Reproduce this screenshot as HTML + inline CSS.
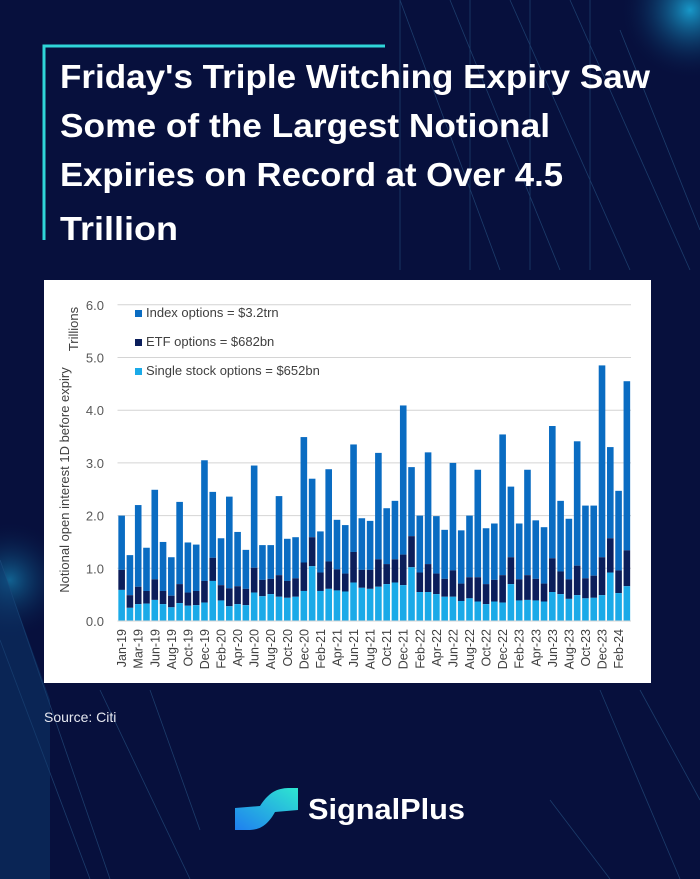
<!DOCTYPE html>
<html><head><meta charset="utf-8"><style>
html,body{margin:0;padding:0;}
body{width:700px;height:879px;background:#07103d;overflow:hidden;position:relative;font-family:"Liberation Sans",sans-serif;}
svg{position:absolute;left:0;top:0;}
</style></head><body>
<svg width="700" height="879" xmlns="http://www.w3.org/2000/svg">
<defs>
<radialGradient id="g1" cx="0.5" cy="0.5" r="0.5"><stop offset="0" stop-color="#1aa7d8" stop-opacity="0.9"/><stop offset="1" stop-color="#07103d" stop-opacity="0"/></radialGradient>
<linearGradient id="lg" x1="0" y1="1" x2="1" y2="0"><stop offset="0" stop-color="#1f7ff0"/><stop offset="1" stop-color="#2ee6d0"/></linearGradient>
</defs>
<rect width="700" height="879" fill="#07103d"/>
<circle cx="690" cy="10" r="70" fill="url(#g1)"/>
<circle cx="10" cy="580" r="60" fill="url(#g1)" opacity="0.6"/>
<g stroke="#2a5a8a" stroke-width="0.8" opacity="0.6" fill="none">
<line x1="400" y1="0" x2="500" y2="270"/><line x1="450" y1="0" x2="560" y2="270"/><line x1="510" y1="0" x2="630" y2="270"/><line x1="570" y1="0" x2="690" y2="270"/><line x1="620" y1="30" x2="700" y2="230"/>
<line x1="0" y1="560" x2="110" y2="879"/><line x1="0" y1="640" x2="90" y2="879"/><line x1="100" y1="690" x2="190" y2="879"/><line x1="150" y1="690" x2="200" y2="830"/>
<line x1="550" y1="800" x2="610" y2="879"/><line x1="600" y1="690" x2="680" y2="879"/><line x1="640" y1="690" x2="700" y2="800"/>
<line x1="400" y1="0" x2="400" y2="270"/><line x1="470" y1="0" x2="470" y2="270"/><line x1="530" y1="0" x2="530" y2="270"/><line x1="590" y1="0" x2="590" y2="270"/>
</g>
<polygon points="0,560 50,700 50,879 0,879" fill="#0d3a6e" opacity="0.5"/>
<path d="M44,240 V46 H385" stroke="#2fd6d9" stroke-width="3" fill="none"/>
<g fill="#ffffff" font-weight="bold" font-size="33">
<text x="60" y="88" textLength="590" lengthAdjust="spacingAndGlyphs">Friday's Triple Witching Expiry Saw</text>
<text x="60" y="137" textLength="490" lengthAdjust="spacingAndGlyphs">Some of the Largest Notional</text>
<text x="60" y="186" textLength="503" lengthAdjust="spacingAndGlyphs">Expiries on Record at Over 4.5</text>
<text x="60" y="240" textLength="118" lengthAdjust="spacingAndGlyphs">Trillion</text>
</g>
<rect x="44" y="280" width="607" height="403" fill="#ffffff"/>
<g id="chart"></g>
<text x="44" y="722" fill="#e6e8f0" font-size="14">Source: Citi</text>
<g>
<path d="M235,808 L260,806 C270,790 280,788 290,788 L298,788 L298,810 L275,812 C265,830 255,830 245,830 L235,830 Z" fill="url(#lg)"/>
<text x="308" y="819" fill="#ffffff" font-size="29" font-weight="bold" textLength="157" lengthAdjust="spacingAndGlyphs">SignalPlus</text>
</g>
</svg>
<script>
const totals=[2.0,1.25,2.2,1.39,2.49,1.5,1.21,2.26,1.49,1.45,3.05,2.45,1.57,2.36,1.69,1.35,2.95,1.44,1.44,2.37,1.56,1.59,3.49,2.7,1.7,2.88,1.92,1.82,3.35,1.95,1.9,3.19,2.14,2.28,4.09,2.92,2.0,3.2,1.99,1.73,3.0,1.72,2.0,2.87,1.76,1.85,3.54,2.55,1.85,2.87,1.91,1.78,3.7,2.28,1.94,3.41,2.19,2.19,4.85,3.3,2.47,4.55];
const etfTop=[0.97,0.49,0.65,0.57,0.79,0.57,0.48,0.70,0.54,0.57,0.76,1.2,0.68,0.62,0.66,0.61,1.01,0.78,0.80,0.87,0.76,0.81,1.11,1.59,0.92,1.13,0.98,0.90,1.31,0.97,0.97,1.17,1.08,1.17,1.26,1.61,0.92,1.08,0.90,0.80,0.96,0.71,0.83,0.83,0.70,0.78,0.87,1.21,0.79,0.87,0.80,0.71,1.19,0.94,0.79,1.05,0.81,0.86,1.21,1.57,0.96,1.34];
const single=[0.59,0.25,0.32,0.33,0.40,0.32,0.26,0.34,0.29,0.30,0.35,0.76,0.39,0.28,0.32,0.30,0.54,0.47,0.51,0.46,0.44,0.46,0.57,1.04,0.57,0.61,0.58,0.56,0.73,0.63,0.61,0.65,0.70,0.73,0.68,1.02,0.55,0.55,0.51,0.46,0.46,0.38,0.43,0.37,0.32,0.37,0.35,0.70,0.39,0.40,0.39,0.37,0.55,0.51,0.42,0.49,0.43,0.44,0.49,0.92,0.53,0.66];
const xLabels=["Jan-19","Mar-19","Jun-19","Aug-19","Oct-19","Dec-19","Feb-20","Apr-20","Jun-20","Aug-20","Oct-20","Dec-20","Feb-21","Apr-21","Jun-21","Aug-21","Oct-21","Dec-21","Feb-22","Apr-22","Jun-22","Aug-22","Oct-22","Dec-22","Feb-23","Apr-23","Jun-23","Aug-23","Oct-23","Dec-23","Feb-24"];
const yTicks=[0,1,2,3,4,5,6];
const legendLabels=["Index options = $3.2trn","ETF options = $682bn","Single stock options = $652bn"];
const NS="http://www.w3.org/2000/svg";
const g=document.getElementById('chart');
const X0=117.5,X1=631,Y0=621,PPU=52.7;
const step=(X1-X0)/totals.length, bw=6.6;
const y=v=>Y0-v*PPU;
const xc=i=>X0+step*(i+0.5);
function mk(t,a){const e=document.createElementNS(NS,t);for(const k in a)e.setAttribute(k,a[k]);g.appendChild(e);return e;}
yTicks.forEach(v=>{
 const l=mk('line',{x1:X0,x2:X1,y1:y(v),y2:y(v),stroke:'#d4d4d4','stroke-width':1});
 
 
 const t=mk('text',{x:104,y:y(v)+5,'text-anchor':'end','font-size':13,fill:'#595959'});
 t.textContent=v.toFixed(1);
 
 
});
const cols=['#0a6cc2','#0b1e5b','#1aaae8'];
totals.forEach((tv,i)=>{
 const x=xc(i)-bw/2;
 const r1=mk('rect',{x:x,width:bw,y:y(tv),height:(tv-etfTop[i])*PPU,fill:cols[0]});
 
 
 const r2=mk('rect',{x:x,width:bw,y:y(etfTop[i]),height:(etfTop[i]-single[i])*PPU,fill:cols[1]});
 
 
 const r3=mk('rect',{x:x,width:bw,y:y(single[i]),height:single[i]*PPU,fill:cols[2]});
 
 
});
xLabels.forEach((s,j)=>{
 const cx=xc(j*2)+4.5;
 const t=mk('text',{x:0,y:0,'text-anchor':'end','font-size':12.5,fill:'#404040',transform:`translate(${cx},${Y0+8}) rotate(-90)`});
 t.textContent=s;
 
 
});
const ax=mk('line',{x1:X0,x2:X1,y1:Y0,y2:Y0,stroke:'#d4d4d4','stroke-width':1});


legendLabels.forEach((s,k)=>{
 const ly=317+k*29;
 const r=mk('rect',{x:135,y:ly-7,width:7,height:7,fill:cols[k]});
 
 
 const t=mk('text',{x:146,y:ly,'font-size':13,fill:'#404040'});
 t.textContent=s;
 
 
});
const yt=mk('text',{x:0,y:0,'text-anchor':'middle','font-size':13,fill:'#404040',transform:'translate(69,480) rotate(-90)'});
yt.textContent='Notional open interest 1D before expiry';


const yu=mk('text',{x:0,y:0,'text-anchor':'middle','font-size':13,fill:'#404040',transform:'translate(78,329) rotate(-90)'});
yu.textContent='Trillions';


</script>
</body></html>
